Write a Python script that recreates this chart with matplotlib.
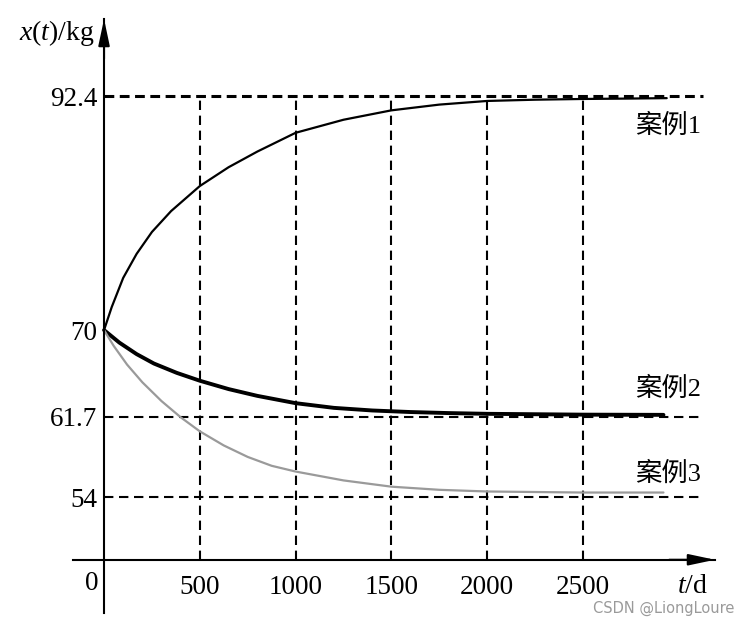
import matplotlib
matplotlib.use("Agg")
import matplotlib.pyplot as plt

# ---- data ----
t_case1 = [0, 40, 100, 170, 250, 350, 500, 650, 800, 1000, 1250, 1500, 1750, 2000, 2250, 2500, 2750, 2937]
x_case1 = [70, 72.2, 75.0, 77.3, 79.4, 81.4, 83.8, 85.6, 87.1, 88.9, 90.15, 91.05, 91.6, 91.95, 92.07, 92.14, 92.18, 92.22]

t_case2 = [0, 80, 170, 260, 380, 500, 650, 800, 1000, 1200, 1400, 1600, 1800, 2000, 2500, 2920]
x_case2 = [70, 68.8, 67.7, 66.8, 65.9, 65.15, 64.35, 63.7, 63.0, 62.55, 62.3, 62.15, 62.05, 61.98, 61.9, 61.88]

t_case3 = [0, 50, 120, 200, 300, 400, 500, 625, 750, 875, 1000, 1250, 1500, 1750, 2000, 2500, 2920]
x_case3 = [70, 68.5, 66.7, 65.0, 63.2, 61.65, 60.3, 58.95, 57.85, 57.0, 56.45, 55.6, 55.0, 54.7, 54.54, 54.44, 54.44]

case_labels = ["案例1", "案例2", "案例3"]
x_ticks = [500, 1000, 1500, 2000, 2500]
y_ticks = [54, 61.7, 70, 92.4]
y_tick_labels = ["54", "61.7", "70", "92.4"]
h_grid = [92.4, 61.7, 54]

plt.rcParams["font.family"] = ["Liberation Serif", "Noto Sans CJK SC"]
plt.rcParams["mathtext.fontset"] = "custom"
plt.rcParams["mathtext.rm"] = "Liberation Serif"
plt.rcParams["mathtext.it"] = "Liberation Serif:italic"

W, H = 744, 629
fig = plt.figure(figsize=(W / 100, H / 100), dpi=100)
ax = fig.add_axes([73 / W, (H - 613) / H, 642 / W, 594 / H])
ax.set_xlim(-162, 3189)
ax.set_ylim(42.9, 99.8)

# axes as crossing lines
for s in ["top", "right"]:
    ax.spines[s].set_visible(False)
ax.spines["left"].set_position(("data", 0))
ax.spines["bottom"].set_position(("data", 48))
ax.spines["left"].set_linewidth(1.5)
ax.spines["bottom"].set_linewidth(1.5)

ax.set_xticks(x_ticks)
ax.set_xticklabels([str(v) for v in x_ticks])
ax.set_yticks(y_ticks)
ax.set_yticklabels(y_tick_labels)
ax.tick_params(axis="both", length=0, labelsize=19.5)
ax.tick_params(axis="x", pad=11)
ax.tick_params(axis="y", pad=5)

# arrows
arrow_kw = dict(arrowstyle="-|>,head_length=0.8,head_width=0.17", color="black",
                lw=1.5, shrinkA=0, shrinkB=0, mutation_scale=20)
ax.annotate("", xy=(0, 99.8), xytext=(0, 96), arrowprops=arrow_kw, annotation_clip=False)
ax.annotate("", xy=(3189, 48), xytext=(2950, 48), arrowprops=arrow_kw, annotation_clip=False)

# dashed guide lines
ax.hlines(h_grid[0], 0, 3126, colors="black", linestyles=(0, (3.2, 1.8)), lw=2.2)
for yv in h_grid[1:]:
    ax.hlines(yv, 0, 3126, colors="black", linestyles=(0, (4.5, 2.7)), lw=1.5)
for xv in x_ticks:
    ax.vlines(xv, 48, 92.4, colors="black", linestyles=(0, (4.5, 2.7)), lw=1.5)

# curves
ax.plot(t_case1, x_case1, color="black", lw=1.6, solid_capstyle="round", solid_joinstyle="round")
ax.plot(t_case2, x_case2, color="black", lw=2.8, solid_capstyle="round", solid_joinstyle="round")
ax.plot(t_case3, x_case3, color="#9a9a9a", lw=1.6, solid_capstyle="round", solid_joinstyle="round")

# curve labels
ax.text(3118, 89.6, case_labels[0], fontsize=19, ha="right", va="center")
ax.text(3118, 64.4, case_labels[1], fontsize=19, ha="right", va="center")
ax.text(3118, 56.3, case_labels[2], fontsize=19, ha="right", va="center")

# axis labels
ax.annotate("0", xy=(0, 48), xytext=(-12, -24), textcoords="offset pixels",
            fontsize=19.5, ha="center", va="center")
ax.text(-50, 98.45, r"$x(t)$/kg", fontsize=20, ha="right", va="center")
ax.text(3152, 45.4, r"$t$/d", fontsize=20, ha="right", va="center")

# watermark
fig.text(593 / W, 1 - 608 / H, "CSDN @LiongLoure", fontsize=10.5,
         family="DejaVu Sans", color="#9a9a9a", ha="left", va="center")

fig.savefig("out.png", dpi=100)
